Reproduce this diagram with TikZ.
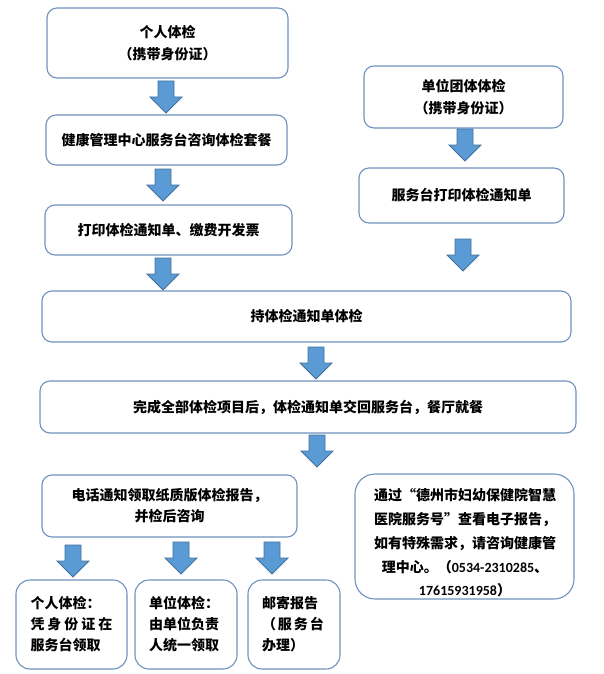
\documentclass[tikz,border=0pt]{standalone}
\usepackage{fontspec}
\setmainfont{Noto Sans CJK SC}
\newfontfamily\digitfont{Carlito}
\definecolor{boxline}{RGB}{112,146,190}
\definecolor{arrfill}{RGB}{91,155,213}
\definecolor{arrline}{RGB}{65,113,156}
\tikzset{
  box/.style={draw=boxline, line width=1.1pt, rounded corners=10pt, inner sep=0pt, align=center, fill=white},
  bigbox/.style={box, rounded corners=14pt},
  blockarrow/.pic={\filldraw[fill=arrfill, draw=arrline, line width=0.8pt, line join=miter]
      (-8,0) -- (8,0) -- (8,16) -- (16,16) -- (0,32) -- (-16,16) -- (-8,16) -- cycle;}
}
\begin{document}
\begin{tikzpicture}[x=1pt, y=-1pt, font=\fontsize{14}{21}\selectfont\bfseries]
\useasboundingbox (0,0) rectangle (604,674);
% left column
\node[box, minimum width=241pt, minimum height=70pt, font=\fontsize{14}{22}\selectfont\bfseries] (A) at (167.5,43) {个人体检\\（携带身份证）};
\node[box, minimum width=241pt, minimum height=50pt] (B) at (166.5,140) {健康管理中心服务台咨询体检套餐};
\node[box, minimum width=247pt, minimum height=50pt] (C) at (168.5,230) {打印体检通知单、缴费开发票};
% right column
\node[box, minimum width=199pt, minimum height=62pt, font=\fontsize{14}{22}\selectfont\bfseries] (J) at (463.5,97) {单位团体体检\\（携带身份证）};
\node[box, minimum width=205pt, minimum height=55pt] (K) at (461.5,195.5) {服务台打印体检通知单};
% wide boxes
\node[box, minimum width=529pt, minimum height=51pt] (D) at (306.5,316.5) {持体检通知单体检};
\node[box, minimum width=536pt, minimum height=52pt] (E) at (308,407) {完成全部体检项目后，体检通知单交回服务台，餐厅就餐};
% report
\node[box, minimum width=255pt, minimum height=62pt] (F) at (169.5,506) {电话通知领取纸质版体检报告，\\并检后咨询};
\node[bigbox, minimum width=111pt, minimum height=89pt, text width=82pt, align=left] (G) at (71.5,624.5)
  {个人体检：\\\makebox[82pt][s]{凭\hfill 身\hfill 份\hfill 证\hfill 在}\\服务台领取};
\node[bigbox, minimum width=102pt, minimum height=89pt, text width=74pt, align=left] (H) at (186,624.5)
  {单位体检：\\由单位负责\\人统一领取};
\node[bigbox, minimum width=92pt, minimum height=89pt, text width=64pt, align=left] (I) at (294,624.5)
  {邮寄报告\\\makebox[62pt][s]{（\hfill 服\hfill 务\hfill 台}\\办理）};
\node[box, rounded corners=20pt, minimum width=219pt, minimum height=125pt] (L) at (464.5,536.5) {};
\node[align=center, inner sep=0pt, font=\fontsize{14}{23.7}\selectfont\bfseries] (Ltext) at (465,543)
  {通过“德州市妇幼保健院智慧\\医院服务号”查看电子报告，\\如有特殊需求，请咨询健康管\\理中心。（{\digitfont 0534-2310285}、\\{\digitfont 17615931958}）};
% block arrows
\pic at (166,81) {blockarrow};
\pic at (163,169) {blockarrow};
\pic at (163,258) {blockarrow};
\pic at (465,129) {blockarrow};
\pic at (463,239) {blockarrow};
\pic at (316,347) {blockarrow};
\pic at (317,435) {blockarrow};
\pic at (73,545) {blockarrow};
\pic at (181,542) {blockarrow};
\pic at (272,542) {blockarrow};
\end{tikzpicture}
\end{document}
